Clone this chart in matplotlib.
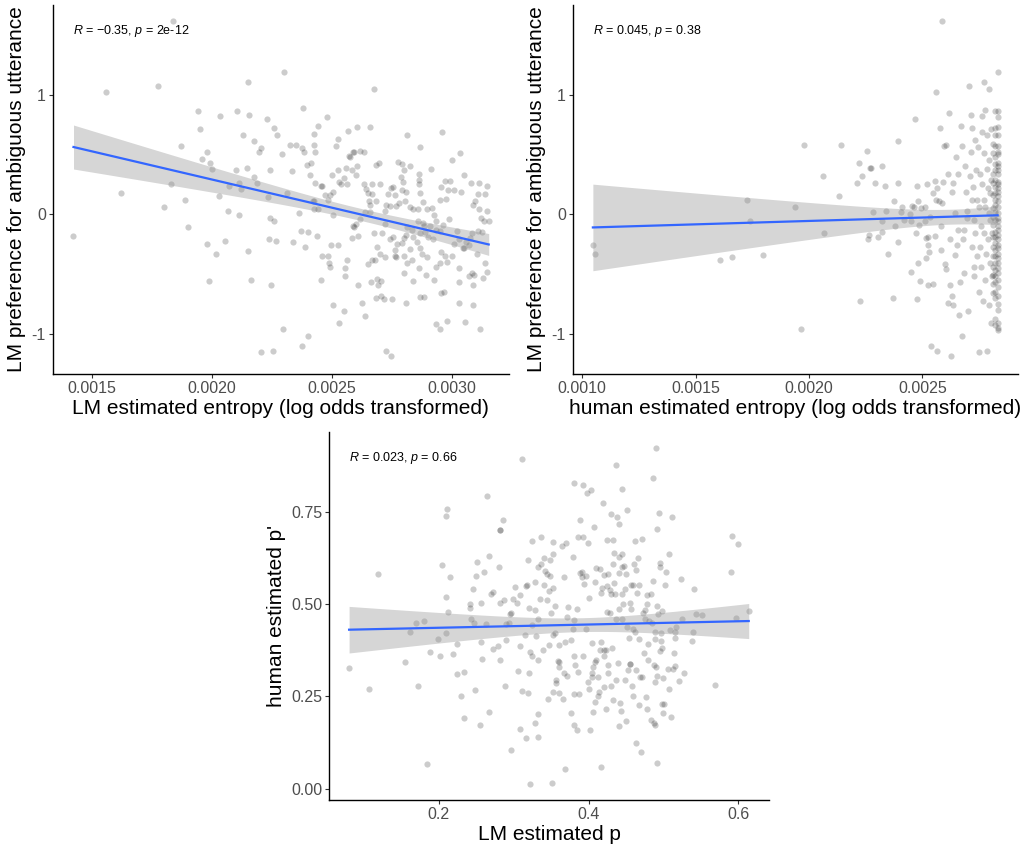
import numpy as np
import matplotlib
matplotlib.use("Agg")
import matplotlib.pyplot as plt

plt.rcParams["font.family"] = ["Liberation Sans", "DejaVu Sans"]
plt.rcParams["mathtext.fontset"] = "custom"
plt.rcParams["mathtext.rm"] = "Liberation Sans"
plt.rcParams["mathtext.it"] = "Liberation Sans:italic"
plt.rcParams["axes.unicode_minus"] = False

# panel A: LM entropy vs LM preference
lm_entropy = [
    0.001424, 0.001558, 0.001622, 0.001775, 0.001800, 0.001832, 0.001840, 0.001871, 0.001888, 0.001903,
    0.001943, 0.001953, 0.001960, 0.001979, 0.001982, 0.001989, 0.001993, 0.001999, 0.002018, 0.002032,
    0.002035, 0.002057, 0.002067, 0.002071, 0.002099, 0.002106, 0.002113, 0.002114, 0.002121, 0.002129,
    0.002146, 0.002150, 0.002151, 0.002156, 0.002163, 0.002176, 0.002178, 0.002188, 0.002196, 0.002204,
    0.002207, 0.002229, 0.002233, 0.002238, 0.002242, 0.002244, 0.002246, 0.002254, 0.002260, 0.002261,
    0.002267, 0.002271, 0.002292, 0.002296, 0.002301, 0.002313, 0.002326, 0.002335, 0.002340, 0.002349,
    0.002365, 0.002372, 0.002376, 0.002376, 0.002382, 0.002386, 0.002389, 0.002396, 0.002399, 0.002399,
    0.002410, 0.002415, 0.002424, 0.002426, 0.002432, 0.002438, 0.002442, 0.002456, 0.002460, 0.002460,
    0.002482, 0.002485, 0.002490, 0.002493, 0.002497, 0.002501, 0.002504,
    0.002813, 0.002867, 0.002961, 0.003035, 0.003000, 0.003050, 0.003082, 0.003113, 0.003147, 0.003138,
    0.003111, 0.003038, 0.003008, 0.002985, 0.002992, 0.002971, 0.002957, 0.002976, 0.002951, 0.002915,
    0.002863, 0.002865, 0.002865, 0.002869, 0.002881, 0.002897, 0.002917, 0.002924, 0.002933, 0.002910,
    0.002882, 0.002861, 0.002860, 0.002840, 0.002824, 0.002804, 0.002793, 0.002808, 0.002796, 0.002788,
    0.002799, 0.002776, 0.002793, 0.002824, 0.002779, 0.002769, 0.002754, 0.002746, 0.002765, 0.002733,
    0.002743, 0.002725, 0.002721, 0.002701, 0.002685, 0.002696, 0.002669, 0.002667, 0.002644, 0.002635,
    0.002649, 0.002656, 0.002686, 0.002661, 0.002660, 0.002639, 0.002618, 0.002600, 0.002594, 0.002583,
    0.002611, 0.002606, 0.002600, 0.002586, 0.002576, 0.002588, 0.002571, 0.002560, 0.002565, 0.002540,
    0.002532, 0.002549, 0.002528, 0.002507, 0.002493, 0.002485, 0.002471, 0.002454, 0.002432, 0.002428,
    0.002420, 0.002425, 0.002444,
    0.003090, 0.003096, 0.003115, 0.003121, 0.003133, 0.003146, 0.003154, 0.003126, 0.003110, 0.003086,
    0.003076, 0.003071, 0.003058, 0.003046, 0.003032, 0.003021, 0.002990, 0.002963, 0.002950, 0.002935,
    0.002920, 0.002899, 0.002889, 0.002885, 0.002868, 0.002856, 0.002840, 0.002833, 0.002815, 0.002811,
    0.002803, 0.002793, 0.002772, 0.002763, 0.002763, 0.002754, 0.002743, 0.002722, 0.002710, 0.002688,
    0.002674, 0.002667, 0.002651, 0.002682, 0.002703, 0.002722, 0.002768, 0.002803, 0.002813, 0.002824,
    0.002835, 0.002867, 0.002865, 0.002875, 0.002892, 0.002897, 0.002924, 0.002936, 0.002951, 0.002954,
    0.002972, 0.003000, 0.002980, 0.003010, 0.003032, 0.003049, 0.003070, 0.003083, 0.003093, 0.003088,
    0.003107, 0.003132, 0.003146, 0.003140, 0.003031, 0.002967, 0.002957, 0.002886, 0.002867, 0.002811,
    0.002751, 0.002718, 0.002704, 0.002683, 0.002693, 0.002706, 0.002690, 0.002664, 0.002611, 0.002626,
    0.002638, 0.002549, 0.002531, 0.002726, 0.002747, 0.002936, 0.002949, 0.002980, 0.003057, 0.003118,
    0.003031, 0.003089,
    0.002674, 0.002567, 0.002607, 0.002660, 0.002528, 0.002518, 0.002593, 0.002618, 0.002635, 0.002507,
    0.002524, 0.002556, 0.002557, 0.002565, 0.002588, 0.002799, 0.002838,
]
lm_pref_a = [
    -0.18, 1.02, 0.18, 1.07, 0.06, 0.25, 1.62, 0.57, 0.12, -0.11,
    0.86, 0.71, 0.46, 0.52, -0.25, -0.56, 0.43, 0.38, -0.33, 0.15,
    0.82, -0.22, 0.03, 0.24, 0.37, 0.86, 0.26, -0.01, 0.21, 0.66,
    0.39, 1.11, -0.31, 0.83, -0.55, 0.61, 0.31, 0.26, 0.52, -1.15,
    0.55, 0.80, 0.14, -0.21, 0.37, -0.03, -0.59, -1.14, -0.06, 0.72,
    -0.22, 0.66, 0.50, -0.96, 1.19, 0.18, 0.58, 0.36, -0.23, 0.58,
    0.01, -0.14, -1.10, 0.55, 0.89, 0.52, -0.27, 0.41, -0.15, -1.02,
    0.33, 0.43, 0.67, 0.58, 0.52, -0.18, 0.74, -0.55, -0.35, 0.24,
    0.81, -0.35, -0.41, -0.44, -0.26, 0.33, -0.76,
    0.66, 0.56, 0.69, 0.51, 0.45, 0.33, 0.26, 0.26, 0.24, 0.17,
    0.17, 0.19, 0.20, 0.20, 0.28, 0.28, 0.23, 0.13, 0.12, 0.38,
    0.34, 0.29, 0.25, 0.18, 0.10, 0.04, 0.05, -0.01, -0.06, -0.10,
    -0.07, -0.06, 0.04, 0.04, 0.06, 0.11, 0.20, 0.19, 0.27, 0.31,
    0.37, 0.44, 0.42, 0.40, 0.09, 0.07, 0.23, 0.22, 0.16, 0.17,
    0.07, 0.08, 0.03, 0.25, 0.41, 0.43, 0.25, 0.17, 0.21, 0.25,
    0.18, 0.11, 0.11, 0.08, 0.02, 0.02, -0.04, -0.08, -0.11, -0.20,
    -0.18, 0.40, 0.33, 0.37, 0.48, 0.52, 0.49, 0.39, 0.25, 0.25,
    0.27, 0.30, 0.37, 0.19, 0.16, 0.12, 0.16, 0.24, 0.26, 0.11,
    0.11, 0.04, 0.04,
    0.08, 0.11, 0.04, -0.03, -0.06, 0.03, -0.06, -0.15, -0.14, -0.16,
    -0.20, -0.26, -0.23, -0.28, -0.21, -0.14, -0.04, -0.09, -0.14, -0.13,
    -0.21, -0.19, -0.15, -0.10, -0.16, -0.23, -0.19, -0.13, -0.11, -0.17,
    -0.20, -0.24, -0.25, -0.30, -0.35, -0.19, -0.21, -0.08, -0.16, -0.27,
    -0.16, -0.38, -0.42, -0.38, -0.33, -0.36, -0.36, -0.35, -0.41, -0.29,
    -0.38, -0.28, -0.45, -0.33, -0.51, -0.36, -0.55, -0.44, -0.41, -0.32,
    -0.35, -0.35, -0.40, -0.25, -0.45, -0.28, -0.52, -0.49, -0.51, -0.59,
    -0.33, -0.53, -0.48, -0.41, -0.57, -0.65, -0.66, -0.69, -0.69, -0.74,
    -0.71, -0.71, -0.68, -0.70, -0.59, -0.56, -0.54, -0.57, -0.59, -0.74,
    -0.85, -0.81, -0.91, -1.14, -1.19, -0.92, -0.96, -0.89, -0.90, -0.96,
    -0.74, -0.76,
    1.05, 0.70, 0.73, 0.73, 0.63, 0.57, 0.52, 0.53, 0.52, -0.01,
    -0.26, -0.45, -0.52, -0.38, -0.10, -0.49, -0.56,
]

# panel B: human entropy vs LM preference
human_entropy = [
    0.001047, 0.001057, 0.001609, 0.001661, 0.001726, 0.001741, 0.001797, 0.001937, 0.001967, 0.001977,
    0.002062, 0.002065, 0.002132, 0.002141, 0.002211, 0.002221, 0.002226, 0.002234, 0.002257, 0.002260,
    0.002266, 0.002269, 0.002273, 0.002284, 0.002292, 0.002306, 0.002320, 0.002320, 0.002320, 0.002337,
    0.002340, 0.002349, 0.002369, 0.002376, 0.002378, 0.002392, 0.002392, 0.002393, 0.002405, 0.002412,
    0.002419, 0.002446, 0.002449, 0.002452, 0.002455, 0.002463, 0.002466, 0.002474, 0.002477, 0.002478,
    0.002480, 0.002481, 0.002487, 0.002489, 0.002496, 0.002510, 0.002513, 0.002514, 0.002516, 0.002520,
    0.002523, 0.002524, 0.002527, 0.002530, 0.002534, 0.002539, 0.002545, 0.002547, 0.002554, 0.002556,
    0.002559, 0.002560, 0.002563, 0.002564, 0.002572, 0.002579, 0.002583, 0.002584, 0.002587, 0.002591,
    0.002594, 0.002598, 0.002603, 0.002606, 0.002585, 0.002612, 0.002615, 0.002617, 0.002620, 0.002621,
    0.002627, 0.002630, 0.002630, 0.002634, 0.002636, 0.002642, 0.002644, 0.002649, 0.002652, 0.002656,
    0.002659, 0.002662, 0.002665, 0.002669, 0.002676, 0.002677, 0.002680, 0.002683, 0.002685, 0.002689,
    0.002693, 0.002696, 0.002699, 0.002703, 0.002707, 0.002710, 0.002713, 0.002714, 0.002717, 0.002718,
    0.002721, 0.002723, 0.002726, 0.002729, 0.002730, 0.002733, 0.002734, 0.002737, 0.002740, 0.002743,
    0.002747, 0.002748, 0.002751, 0.002752, 0.002754, 0.002756, 0.002758, 0.002759, 0.002762, 0.002764,
    0.002764, 0.002767, 0.002770, 0.002771, 0.002773, 0.002774, 0.002775, 0.002778, 0.002778, 0.002781,
    0.002784, 0.002785, 0.002787, 0.002788, 0.002790, 0.002792, 0.002792, 0.002795, 0.002796, 0.002797,
    0.002799, 0.002800, 0.002801, 0.002803, 0.002804, 0.002806, 0.002806,
]
lm_pref_b = [
    -0.26, -0.33, -0.38, -0.36, 0.12, -0.06, -0.34, 0.06, -0.96, 0.58,
    0.32, -0.16, 0.15, 0.58, 0.26, 0.43, -0.73, 0.32, 0.53, -0.21,
    -0.17, 0.39, 0.39, 0.02, 0.26, -0.19, 0.40, -0.15, -0.06, 0.24,
    0.03, -0.33, -0.70, 0.11, -0.10, 0.61, 0.26, -0.23, 0.02, 0.06,
    -0.05, 0.00, -0.06, -0.48, 0.07, 0.06, 0.80, -0.16, -0.71, 0.24,
    0.11, -0.41, -0.09, -0.56, 0.05, -0.06, 0.06, -0.37, -0.20, 0.25,
    -0.19, -0.59, -0.26, -0.32, -0.02, -1.10, -0.58, 0.18, -0.18, 0.28,
    0.12, 1.02, -1.14, 0.22, 0.11, 0.72, -0.10, -0.30, 0.09, 0.27,
    0.57, -0.42, 0.58, -0.46, 1.62, 0.34, -0.74, 0.85, -0.21, -0.59,
    -1.19, -0.68, 0.19, -0.76, 0.26, 0.01, -0.34, 0.48, -0.26, -0.13,
    0.34, -0.84, -0.57, 0.74, -1.02, 0.57, -0.21, -0.13, -0.49, 0.40,
    0.19, -0.03, 0.03, -0.81, 1.07, 0.32, 0.52, 0.83, 0.12, 0.72,
    -0.27, 0.23, -0.44, -0.05, -0.52, 0.62, -0.16, 0.37, 0.12, -0.35,
    0.56, -1.15, 0.06, -0.65, -0.27, 0.34, -0.10, -0.44, 0.69, 0.25,
    0.82, -0.73, 0.12, -0.16, 1.11, 0.51, -0.55, 0.87, 0.06, -0.33,
    0.38, -1.14, 0.66, 0.22, -0.21, 0.01, -0.76, 0.45, 1.05, -0.41,
    0.18, -0.05, -0.91, 0.71, 0.29, -0.16, -0.52,
]
# items sitting at the maximum of human entropy (the dark column on the right)
human_entropy_edge = [
    0.002832, 0.002832, 0.002832, 0.002832, 0.002832, 0.002832, 0.002832, 0.002832, 0.002832, 0.002832,
    0.002832, 0.002832, 0.002832, 0.002832, 0.002832, 0.002832, 0.002832, 0.002832, 0.002832, 0.002832,
    0.002832, 0.002832, 0.002832, 0.002832, 0.002832, 0.002832, 0.002832, 0.002832, 0.002832, 0.002832,
    0.002832, 0.002832, 0.002832, 0.002832, 0.002832, 0.002832, 0.002832, 0.002832, 0.002832, 0.002832,
    0.002832,
    0.002822, 0.002822, 0.002822, 0.002822, 0.002822, 0.002822, 0.002822, 0.002822, 0.002822, 0.002822,
    0.002822, 0.002822, 0.002822, 0.002822, 0.002822, 0.002822, 0.002822, 0.002822, 0.002822, 0.002822,
    0.002822, 0.002822, 0.002822, 0.002822, 0.002822, 0.002822, 0.002822,
    0.002812, 0.002812, 0.002812, 0.002812, 0.002812, 0.002812, 0.002812, 0.002812, 0.002812, 0.002812,
    0.002812, 0.002812, 0.002812, 0.002812, 0.002812,
]
lm_pref_edge = [
    1.19, 0.86, 0.81, 0.73, 0.66, 0.57, 0.52, 0.50, 0.43, 0.40,
    0.37, 0.34, 0.27, 0.25, 0.22, 0.19, 0.15, 0.11, 0.06, 0.01,
    -0.03, -0.06, -0.10, -0.13, -0.17, -0.21, -0.26, -0.28, -0.33, -0.37,
    -0.41, -0.45, -0.49, -0.55, -0.61, -0.68, -0.75, -0.80, -0.91, -0.95,
    -0.97,
    0.86, 0.72, 0.66, 0.57, 0.48, 0.42, 0.37, 0.29, 0.23, 0.18,
    0.12, 0.08, 0.02, -0.05, -0.15, -0.19, -0.24, -0.30, -0.35, -0.41,
    -0.47, -0.52, -0.57, -0.65, -0.70, -0.88, -0.93,
    0.59, 0.51, 0.34, 0.26, 0.16, 0.05, -0.02, -0.09, -0.19, -0.27,
    -0.35, -0.44, -0.51, -0.58, -0.66,
]

# panel C: LM p vs human p'
lm_p = [
    0.080, 0.106, 0.119, 0.155, 0.162, 0.169, 0.172, 0.180, 0.184, 0.188,
    0.199, 0.202, 0.204, 0.209, 0.209, 0.209, 0.211, 0.212, 0.215, 0.219,
    0.224, 0.224, 0.230, 0.233, 0.234, 0.241, 0.241, 0.243, 0.246, 0.247,
    0.248, 0.250, 0.251, 0.255, 0.256, 0.256, 0.258, 0.260, 0.263, 0.264,
    0.267, 0.267, 0.269, 0.272, 0.272, 0.279, 0.280, 0.281, 0.282, 0.282,
    0.282, 0.286, 0.287, 0.288, 0.289, 0.290, 0.293, 0.295, 0.296, 0.297,
    0.299, 0.302, 0.305, 0.306, 0.308, 0.309, 0.309, 0.311, 0.311, 0.315,
    0.317, 0.317, 0.318, 0.319, 0.319, 0.320, 0.321, 0.322, 0.322, 0.324,
    0.324, 0.325, 0.328, 0.328, 0.329, 0.330, 0.332, 0.332, 0.333, 0.333,
    0.333, 0.335, 0.336, 0.337, 0.339, 0.340, 0.341, 0.342, 0.344, 0.344,
    0.346, 0.347, 0.347, 0.348, 0.349, 0.350, 0.351, 0.352, 0.352, 0.353,
    0.353, 0.353, 0.355, 0.355, 0.356, 0.357, 0.359, 0.360, 0.360, 0.360,
    0.361, 0.364, 0.366, 0.367, 0.367, 0.368, 0.369, 0.370, 0.371, 0.371,
    0.373, 0.377, 0.377, 0.379, 0.379, 0.380, 0.380, 0.381, 0.381, 0.381,
    0.382, 0.384, 0.385, 0.386, 0.386, 0.387, 0.388, 0.389, 0.391, 0.391,
    0.392, 0.392, 0.393, 0.394, 0.396, 0.397, 0.398, 0.399, 0.399, 0.400,
    0.401, 0.402, 0.403, 0.404, 0.404, 0.405, 0.406, 0.406, 0.407, 0.408,
    0.408, 0.409, 0.410, 0.410, 0.412, 0.413, 0.414, 0.415, 0.415, 0.416,
    0.417, 0.417, 0.418, 0.419, 0.420, 0.420, 0.420, 0.421, 0.423, 0.423,
    0.424, 0.425, 0.425, 0.426, 0.426, 0.426, 0.429, 0.429, 0.430, 0.430,
    0.430, 0.431, 0.432, 0.432, 0.433, 0.434, 0.434, 0.435, 0.436, 0.437,
    0.437, 0.438, 0.439, 0.440, 0.440, 0.440, 0.441, 0.441, 0.442, 0.443,
    0.444, 0.444, 0.445, 0.445, 0.445, 0.446, 0.447, 0.448, 0.449, 0.450,
    0.450, 0.452, 0.452, 0.453, 0.454, 0.455, 0.456, 0.456, 0.457, 0.457,
    0.458, 0.459, 0.460, 0.460, 0.461, 0.462, 0.462, 0.463, 0.463, 0.464,
    0.465, 0.466, 0.467, 0.467, 0.468, 0.469, 0.470, 0.471, 0.472, 0.473,
    0.474, 0.475, 0.476, 0.477, 0.478, 0.478, 0.478, 0.479, 0.480, 0.481,
    0.483, 0.484, 0.485, 0.486, 0.486, 0.487, 0.488, 0.489, 0.489, 0.489,
    0.489, 0.490, 0.490, 0.491, 0.491, 0.491, 0.492, 0.493, 0.494, 0.495,
    0.496, 0.496, 0.497, 0.497, 0.498, 0.498, 0.498, 0.499, 0.500, 0.501,
    0.502, 0.504, 0.506, 0.507, 0.508, 0.509, 0.510, 0.512, 0.513, 0.514,
    0.515, 0.515, 0.516, 0.517, 0.521, 0.524, 0.525, 0.528, 0.538, 0.539,
    0.541, 0.543, 0.552, 0.569, 0.590, 0.591, 0.597, 0.600, 0.614,
]
human_p = [
    0.326, 0.270, 0.582, 0.344, 0.424, 0.449, 0.279, 0.453, 0.068, 0.370,
    0.404, 0.358, 0.605, 0.420, 0.519, 0.739, 0.757, 0.478, 0.572, 0.364,
    0.391, 0.309, 0.250, 0.192, 0.315, 0.501, 0.488, 0.458, 0.541, 0.448,
    0.267, 0.575, 0.613, 0.171, 0.503, 0.397, 0.350, 0.586, 0.447, 0.791,
    0.207, 0.629, 0.528, 0.532, 0.377, 0.386, 0.600, 0.700, 0.700, 0.348,
    0.503, 0.727, 0.510, 0.278, 0.402, 0.447, 0.449, 0.474, 0.476, 0.105,
    0.512, 0.546, 0.503, 0.319, 0.162, 0.524, 0.386, 0.892, 0.264, 0.416,
    0.137, 0.548, 0.552, 0.620, 0.260, 0.314, 0.490, 0.013, 0.371, 0.443,
    0.359, 0.671, 0.483, 0.559, 0.178, 0.413, 0.202, 0.600, 0.458, 0.141,
    0.348, 0.514, 0.608, 0.680, 0.376, 0.550, 0.624, 0.590, 0.581, 0.510,
    0.242, 0.388, 0.535, 0.620, 0.575, 0.476, 0.014, 0.636, 0.415, 0.667,
    0.542, 0.261, 0.494, 0.420, 0.294, 0.285, 0.346, 0.328, 0.260, 0.388,
    0.343, 0.656, 0.242, 0.573, 0.314, 0.052, 0.398, 0.664, 0.465, 0.305,
    0.492, 0.204, 0.402, 0.431, 0.626, 0.828, 0.456, 0.256, 0.359, 0.171,
    0.334, 0.159, 0.485, 0.316, 0.682, 0.256, 0.728, 0.584, 0.573, 0.586,
    0.822, 0.359, 0.682, 0.553, 0.575, 0.431, 0.799, 0.664, 0.290, 0.515,
    0.269, 0.160, 0.808, 0.303, 0.314, 0.393, 0.330, 0.207, 0.707, 0.235,
    0.343, 0.559, 0.596, 0.348, 0.252, 0.301, 0.262, 0.375, 0.595, 0.398,
    0.530, 0.059, 0.542, 0.772, 0.276, 0.577, 0.375, 0.359, 0.375, 0.215,
    0.478, 0.548, 0.672, 0.581, 0.336, 0.312, 0.476, 0.537, 0.743, 0.526,
    0.278, 0.380, 0.609, 0.240, 0.674, 0.557, 0.638, 0.528, 0.294, 0.875,
    0.458, 0.736, 0.339, 0.627, 0.716, 0.584, 0.487, 0.169, 0.233, 0.211,
    0.812, 0.458, 0.600, 0.528, 0.636, 0.501, 0.602, 0.294, 0.540, 0.184,
    0.581, 0.755, 0.438, 0.321, 0.409, 0.337, 0.337, 0.503, 0.550, 0.485,
    0.279, 0.252, 0.550, 0.433, 0.608, 0.671, 0.424, 0.593, 0.124, 0.321,
    0.530, 0.623, 0.227, 0.406, 0.550, 0.301, 0.099, 0.301, 0.676, 0.476,
    0.366, 0.458, 0.483, 0.249, 0.499, 0.524, 0.216, 0.348, 0.391, 0.454,
    0.187, 0.528, 0.449, 0.842, 0.563, 0.335, 0.178, 0.424, 0.404, 0.171,
    0.289, 0.921, 0.328, 0.069, 0.704, 0.305, 0.494, 0.474, 0.745, 0.611,
    0.600, 0.373, 0.420, 0.400, 0.382, 0.229, 0.481, 0.204, 0.299, 0.229,
    0.551, 0.586, 0.324, 0.271, 0.636, 0.429, 0.195, 0.736, 0.324, 0.368,
    0.409, 0.424, 0.332, 0.438, 0.292, 0.568, 0.458, 0.314, 0.400, 0.424,
    0.541, 0.474, 0.471, 0.281, 0.587, 0.685, 0.461, 0.661, 0.480,
]

stat_labels = [r"$R$ = $-$0.35, $p$ = 2e-12", r"$R$ = 0.045, $p$ = 0.38", r"$R$ = 0.023, $p$ = 0.66"]


def smooth(ax, x, y):
    # linear fit with 95% confidence band, like geom_smooth(method = "lm")
    x = np.asarray(x, dtype=float)
    y = np.asarray(y, dtype=float)
    n = len(x)
    slope, icpt = np.polyfit(x, y, 1)
    xs = np.linspace(x.min(), x.max(), 100)
    ys = icpt + slope * xs
    resid = y - (icpt + slope * x)
    s = np.sqrt(np.sum(resid ** 2) / (n - 2))
    se = s * np.sqrt(1 / n + (xs - x.mean()) ** 2 / np.sum((x - x.mean()) ** 2))
    ax.fill_between(xs, ys - 1.968 * se, ys + 1.968 * se, color="#999999", alpha=0.4, lw=0, zorder=2)
    ax.plot(xs, ys, color="#3366FF", lw=1.6, zorder=3)


def style(ax):
    for s in ["top", "right"]:
        ax.spines[s].set_visible(False)
    for s in ["left", "bottom"]:
        ax.spines[s].set_linewidth(1.0)
        ax.spines[s].set_color("black")
    ax.tick_params(length=3, width=0.8, color="#333333", labelcolor="#4D4D4D", labelsize=11.5, pad=2)


fig = plt.figure(figsize=(10.28, 8.46), dpi=100)

ax1 = fig.add_axes([0.0513, 0.558, 0.4439, 0.4362])
ax2 = fig.add_axes([0.5571, 0.558, 0.4332, 0.4362])
ax3 = fig.add_axes([0.3203, 0.0544, 0.4277, 0.435])

pt = dict(s=20, color="black", alpha=0.2, lw=0, zorder=1)

# panel A
ax1.scatter(lm_entropy, lm_pref_a, **pt)
smooth(ax1, lm_entropy, lm_pref_a)
ax1.set_xlim(0.0013375, 0.0032388)
ax1.set_ylim(-1.336, 1.751)
ax1.set_xticks([0.0015, 0.0020, 0.0025, 0.0030])
ax1.set_xticklabels(["0.0015", "0.0020", "0.0025", "0.0030"])
ax1.set_yticks([-1, 0, 1])
ax1.set_yticklabels(["-1", "0", "1"])
ax1.set_xlabel("LM estimated entropy (log odds transformed)", fontsize=15, labelpad=2)
ax1.set_ylabel("LM preference for ambiguous utterance", fontsize=15, labelpad=4)

# panel B
hx = human_entropy + human_entropy_edge
hy = lm_pref_b + lm_pref_edge
ax2.scatter(hx, hy, **pt)
smooth(ax2, hx, hy)
ax2.set_xlim(0.000958, 0.002922)
ax2.set_ylim(-1.336, 1.751)
ax2.set_xticks([0.0010, 0.0015, 0.0020, 0.0025])
ax2.set_xticklabels(["0.0010", "0.0015", "0.0020", "0.0025"])
ax2.set_yticks([-1, 0, 1])
ax2.set_yticklabels(["-1", "0", "1"])
ax2.set_xlabel("human estimated entropy (log odds transformed)", fontsize=15, labelpad=2)
ax2.set_ylabel("LM preference for ambiguous utterance", fontsize=15, labelpad=4)

# panel C
ax3.scatter(lm_p, human_p, **pt)
smooth(ax3, lm_p, human_p)
ax3.set_xlim(0.0535, 0.641)
ax3.set_ylim(-0.0307, 0.9655)
ax3.set_xticks([0.2, 0.4, 0.6])
ax3.set_xticklabels(["0.2", "0.4", "0.6"])
ax3.set_yticks([0.0, 0.25, 0.5, 0.75])
ax3.set_yticklabels(["0.00", "0.25", "0.50", "0.75"])
ax3.set_xlabel("LM estimated p", fontsize=15, labelpad=2)
ax3.set_ylabel("human estimated p'", fontsize=15, labelpad=4)

for ax, lab in zip([ax1, ax2, ax3], stat_labels):
    style(ax)
    ax.text(0.045, 0.93, lab, transform=ax.transAxes, fontsize=9, color="black",
            ha="left", va="center")

fig.savefig("out.png", dpi=100)
